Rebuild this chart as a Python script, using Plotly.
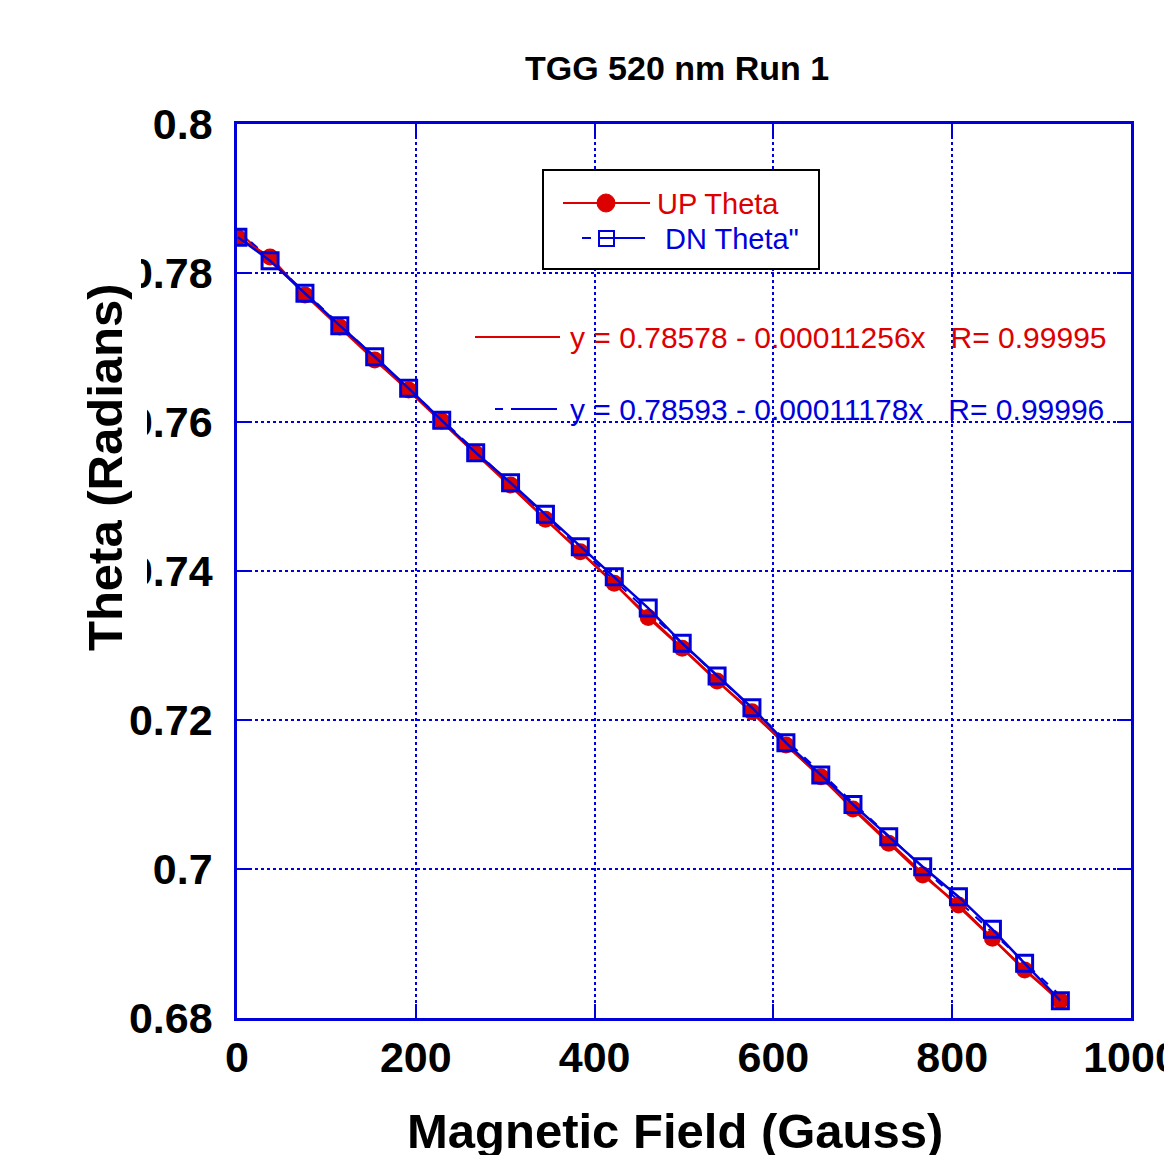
import plotly.graph_objects as go

# ---------------- data ----------------
field_gauss = [1, 37, 76, 115, 154, 192, 229, 267, 306, 345, 384, 422, 460,
               498, 537, 576, 614, 653, 689, 729, 767, 807, 845, 881, 921]
up_theta = [0.78476, 0.78215, 0.77705, 0.77275, 0.76832, 0.76430, 0.76013,
            0.75577, 0.75154, 0.74694, 0.74259, 0.73835, 0.73376, 0.72962,
            0.72523, 0.72111, 0.71664, 0.71239, 0.70805, 0.70345, 0.69919,
            0.69517, 0.69070, 0.68644, 0.68232]
dn_theta = [0.78479, 0.78165, 0.77728, 0.77293, 0.76876, 0.76452, 0.76023,
            0.75588, 0.75185, 0.74761, 0.74326, 0.73924, 0.73503, 0.73030,
            0.72591, 0.72165, 0.71695, 0.71262, 0.70866, 0.70434, 0.70031,
            0.69628, 0.69191, 0.68734, 0.68232]
series_names = ["UP Theta", 'DN Theta"']
fit_intercepts = [0.78578, 0.78593]
fit_slopes = [-0.00011256, -0.00011178]
fit_r = ["0.99995", "0.99996"]
x_ticks = [0, 200, 400, 600, 800, 1000]
y_ticks = [0.68, 0.70, 0.72, 0.74, 0.76, 0.78, 0.80]

RED = "#dd0000"
BLUE = "#0000dd"
FONT = "Liberation Sans"

W, H = 1164, 1155
L, R, T, B = 237, 1131, 124, 1018  # plot area in pixels


def px(x):
    return (x - L) / (R - L)


def py(y):
    return (B - y) / (B - T)


fig = go.Figure()

# fitted lines (from the printed fit coefficients)
xf = [min(field_gauss), max(field_gauss)]
for a, b, col, dash in [(fit_intercepts[0], fit_slopes[0], RED, "solid"),
                        (fit_intercepts[1], fit_slopes[1], BLUE, "dash")]:
    fig.add_trace(go.Scatter(x=xf, y=[a + b * v for v in xf], mode="lines",
                             line=dict(color=col, width=2, dash=dash),
                             showlegend=False, hoverinfo="skip"))

fig.add_trace(go.Scatter(
    x=field_gauss, y=up_theta, mode="lines+markers", name=series_names[0],
    line=dict(color=RED, width=2.5),
    marker=dict(symbol="circle", size=17, color=RED), showlegend=False))
fig.add_trace(go.Scatter(
    x=field_gauss, y=dn_theta, mode="lines+markers", name=series_names[1],
    line=dict(color=BLUE, width=2.5),
    marker=dict(symbol="square-open", size=16, color=BLUE, line=dict(width=3, color=BLUE)),
    showlegend=False))

axis_common = dict(
    showline=True, linecolor=BLUE, linewidth=2.5, mirror="all",
    ticks="inside", ticklen=14, tickwidth=2, tickcolor=BLUE,
    showgrid=True, gridcolor=BLUE, gridwidth=2, griddash="dot",
    zeroline=False, ticklabeloverflow="allow", automargin=False,
    tickfont=dict(family=FONT, size=43, color="black", weight="bold"),
)

fig.update_layout(
    width=W, height=H,
    margin=dict(l=L, r=W - R, t=T, b=H - B, pad=0, autoexpand=False),
    paper_bgcolor="white", plot_bgcolor="white",
    xaxis=dict(range=[0, 1000], tickvals=x_ticks, ticklabelstandoff=0, **axis_common),
    yaxis=dict(range=[0.68, 0.80], tickvals=y_ticks, ticklabelstandoff=13, **axis_common),
    showlegend=False,
)

shapes = []
# white covers that hide part of the y tick labels behind the axis title (as in original)
shapes.append(dict(type="rect", xref="paper", yref="paper", layer="above",
                   x0=px(70), x1=px(141), y0=py(330), y1=py(250),
                   fillcolor="white", line=dict(width=0)))
shapes.append(dict(type="rect", xref="paper", yref="paper", layer="above",
                   x0=px(70), x1=px(147), y0=py(660), y1=py(380),
                   fillcolor="white", line=dict(width=0)))
# legend frame
shapes.append(dict(type="rect", xref="paper", yref="paper", layer="above",
                   x0=px(543), x1=px(819), y0=py(269), y1=py(170),
                   fillcolor="white", line=dict(color="black", width=2)))
# legend symbols
shapes.append(dict(type="line", xref="paper", yref="paper", layer="above",
                   x0=px(563), x1=px(650), y0=py(203), y1=py(203),
                   line=dict(color=RED, width=2)))
shapes.append(dict(type="circle", xref="paper", yref="paper", layer="above",
                   x0=px(597), x1=px(615), y0=py(212), y1=py(194),
                   fillcolor=RED, line=dict(color=RED, width=1)))
shapes.append(dict(type="line", xref="paper", yref="paper", layer="above",
                   x0=px(582), x1=px(591), y0=py(238), y1=py(238),
                   line=dict(color=BLUE, width=2)))
shapes.append(dict(type="line", xref="paper", yref="paper", layer="above",
                   x0=px(614), x1=px(645), y0=py(238), y1=py(238),
                   line=dict(color=BLUE, width=2)))
shapes.append(dict(type="rect", xref="paper", yref="paper", layer="above",
                   x0=px(599), x1=px(614), y0=py(246), y1=py(231),
                   fillcolor="white", line=dict(color=BLUE, width=2)))
shapes.append(dict(type="line", xref="paper", yref="paper", layer="above",
                   x0=px(599), x1=px(614), y0=py(238), y1=py(238),
                   line=dict(color=BLUE, width=2)))
# fit-label line samples
shapes.append(dict(type="line", xref="paper", yref="paper", layer="above",
                   x0=px(475), x1=px(560), y0=py(337), y1=py(337),
                   line=dict(color=RED, width=2)))
shapes.append(dict(type="line", xref="paper", yref="paper", layer="above",
                   x0=px(495), x1=px(503), y0=py(409), y1=py(409),
                   line=dict(color=BLUE, width=2)))
shapes.append(dict(type="line", xref="paper", yref="paper", layer="above",
                   x0=px(511), x1=px(557), y0=py(409), y1=py(409),
                   line=dict(color=BLUE, width=2)))
fig.update_layout(shapes=shapes)

sp = "\u00a0"
annotations = [
    dict(text="TGG 520 nm Run 1", x=px(677), y=py(68), xref="paper", yref="paper",
         showarrow=False, xanchor="center", yanchor="middle",
         font=dict(family=FONT, size=34, color="black", weight="bold")),
    dict(text="Magnetic Field (Gauss)", x=px(675), y=py(1131), xref="paper", yref="paper",
         showarrow=False, xanchor="center", yanchor="middle",
         font=dict(family=FONT, size=49, color="black", weight="bold")),
    dict(text="Theta (Radians)", x=px(105), y=py(467), xref="paper", yref="paper",
         showarrow=False, xanchor="center", yanchor="middle", textangle=-90,
         font=dict(family=FONT, size=49, color="black", weight="bold")),
    dict(text=series_names[0], x=px(655), y=py(204), xref="paper", yref="paper",
         showarrow=False, xanchor="left", yanchor="middle",
         font=dict(family=FONT, size=29, color=RED)),
    dict(text=series_names[1], x=px(663), y=py(239), xref="paper", yref="paper",
         showarrow=False, xanchor="left", yanchor="middle",
         font=dict(family=FONT, size=29, color=BLUE)),
]
for i, (col, yy) in enumerate([(RED, 338), (BLUE, 410)]):
    a = fit_intercepts[i]
    b = -fit_slopes[i]
    txt = "y = %.5f - %.8fx%sR= %s" % (a, b, sp * 3, fit_r[i])
    annotations.append(dict(text=txt.replace(" ", sp), x=px(568), y=py(yy),
                            xref="paper", yref="paper", showarrow=False,
                            xanchor="left", yanchor="middle",
                            font=dict(family=FONT, size=30, color=col)))
fig.update_layout(annotations=annotations)

fig.write_html("out.html")
